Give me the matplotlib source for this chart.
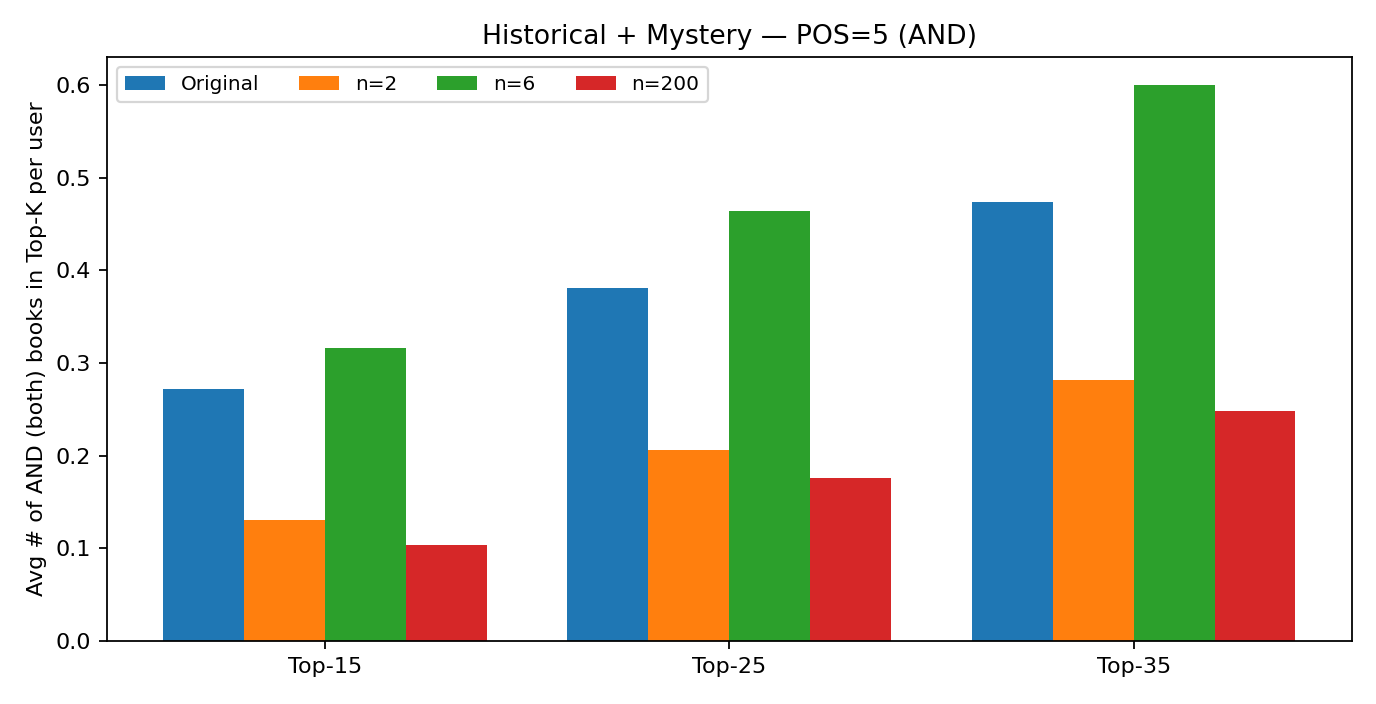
import numpy as np
import matplotlib.pyplot as plt

groups = ["Top-15", "Top-25", "Top-35"]
series = ["Original", "n=2", "n=6", "n=200"]
original = [0.272, 0.381, 0.474]
n2 = [0.131, 0.206, 0.282]
n6 = [0.316, 0.464, 0.600]
n200 = [0.104, 0.176, 0.248]
values = [original, n2, n6, n200]

fig = plt.figure(figsize=(8.6, 4.4), dpi=160)
ax = fig.add_axes([106.5 / 1376, 1 - 641 / 704, 1245.5 / 1376, 584 / 704])

x = np.arange(len(groups))
w = 0.2
for i, (name, vals) in enumerate(zip(series, values)):
    ax.bar(x + (i - 1.5) * w, vals, w, label=name)

ax.set_xticks(x)
ax.set_xticklabels(groups)
ax.tick_params(labelsize=10)
ax.set_ylabel("Avg # of AND (both) books in Top-K per user", fontsize=10)
ax.set_title("Historical + Mystery — POS=5 (AND)", fontsize=12)
ax.legend(ncol=4, fontsize=9, loc="upper left")

fig.savefig("out.png", dpi=160)
